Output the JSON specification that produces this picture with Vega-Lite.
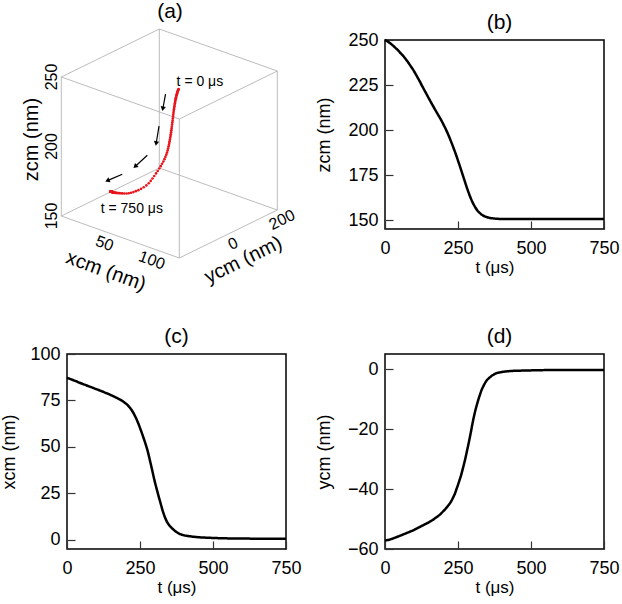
{
  "$schema": "https://vega.github.io/schema/vega-lite/v6.json",
  "padding": {"left": 0, "top": 0, "right": 0, "bottom": 0},
  "background": "white",
  "columns": 2,
  "bounds": "flush",
  "spacing": {"row": 125, "column": 99},
  "datasets": {
    "traj": [
      {"t":0,"x":87.2,"y":-57.2,"z":250.0},{"t":5,"x":86.9,"y":-57.1,"z":249.6},{"t":10,"x":86.6,"y":-57.0,"z":249.1},{"t":15,"x":86.3,"y":-56.9,"z":248.5},
      {"t":20,"x":86.0,"y":-56.7,"z":247.9},{"t":25,"x":85.7,"y":-56.6,"z":247.2},{"t":30,"x":85.4,"y":-56.4,"z":246.5},{"t":35,"x":85.1,"y":-56.2,"z":245.8},
      {"t":40,"x":84.7,"y":-56.0,"z":245.0},{"t":45,"x":84.4,"y":-55.85,"z":244.2},{"t":50,"x":84.1,"y":-55.65,"z":243.3},{"t":55,"x":83.8,"y":-55.45,"z":242.4},
      {"t":60,"x":83.5,"y":-55.25,"z":241.6},{"t":65,"x":83.2,"y":-55.05,"z":240.6},{"t":70,"x":82.9,"y":-54.85,"z":239.6},{"t":75,"x":82.6,"y":-54.65,"z":238.5},
      {"t":80,"x":82.3,"y":-54.45,"z":237.4},{"t":85,"x":82.0,"y":-54.25,"z":236.2},{"t":90,"x":81.7,"y":-54.05,"z":235.0},{"t":95,"x":81.4,"y":-53.85,"z":233.8},
      {"t":100,"x":81.1,"y":-53.6,"z":232.5},{"t":105,"x":80.8,"y":-53.35,"z":231.1},{"t":110,"x":80.5,"y":-53.1,"z":229.7},{"t":115,"x":80.2,"y":-52.85,"z":228.2},
      {"t":120,"x":79.9,"y":-52.6,"z":226.7},{"t":125,"x":79.6,"y":-52.35,"z":225.1},{"t":130,"x":79.2,"y":-52.1,"z":223.6},{"t":135,"x":78.9,"y":-51.85,"z":222.1},
      {"t":140,"x":78.6,"y":-51.6,"z":220.6},{"t":145,"x":78.3,"y":-51.35,"z":219.1},{"t":150,"x":77.9,"y":-51.1,"z":217.6},{"t":155,"x":77.6,"y":-50.8,"z":216.1},
      {"t":160,"x":77.2,"y":-50.5,"z":214.6},{"t":165,"x":76.8,"y":-50.2,"z":213.2},{"t":170,"x":76.4,"y":-49.85,"z":211.8},{"t":175,"x":76.0,"y":-49.5,"z":210.4},
      {"t":180,"x":75.6,"y":-49.15,"z":209.0},{"t":185,"x":75.2,"y":-48.8,"z":207.6},{"t":190,"x":74.7,"y":-48.35,"z":206.2},{"t":195,"x":74.1,"y":-47.85,"z":204.7},
      {"t":200,"x":73.5,"y":-47.4,"z":203.1},{"t":205,"x":72.9,"y":-46.9,"z":201.5},{"t":210,"x":72.1,"y":-46.3,"z":199.8},{"t":215,"x":71.2,"y":-45.7,"z":198.0},
      {"t":220,"x":70.1,"y":-45.1,"z":196.1},{"t":225,"x":68.9,"y":-44.4,"z":194.1},{"t":230,"x":67.5,"y":-43.5,"z":192.0},{"t":235,"x":65.9,"y":-42.5,"z":189.9},
      {"t":240,"x":64.2,"y":-41.4,"z":187.7},{"t":245,"x":62.3,"y":-40.0,"z":185.4},{"t":250,"x":60.2,"y":-38.6,"z":183.0},{"t":255,"x":58.1,"y":-37.1,"z":180.6},
      {"t":260,"x":55.8,"y":-35.6,"z":178.1},{"t":265,"x":53.5,"y":-33.8,"z":175.6},{"t":270,"x":51.1,"y":-31.9,"z":173.1},{"t":275,"x":48.5,"y":-29.9,"z":170.6},
      {"t":280,"x":45.4,"y":-27.7,"z":168.1},{"t":285,"x":42.0,"y":-25.4,"z":165.8},{"t":290,"x":38.6,"y":-23.1,"z":163.6},{"t":295,"x":35.1,"y":-20.6,"z":161.6},
      {"t":300,"x":31.7,"y":-18.0,"z":159.8},{"t":305,"x":28.6,"y":-15.7,"z":158.2},{"t":310,"x":25.6,"y":-13.6,"z":156.8},{"t":315,"x":22.7,"y":-11.8,"z":155.6},
      {"t":320,"x":19.9,"y":-10.1,"z":154.6},{"t":325,"x":17.0,"y":-8.6,"z":153.8},{"t":330,"x":14.4,"y":-7.2,"z":153.1},{"t":335,"x":12.2,"y":-6.1,"z":152.6},
      {"t":340,"x":10.4,"y":-5.1,"z":152.1},{"t":345,"x":8.9,"y":-4.3,"z":151.8},{"t":350,"x":7.8,"y":-3.6,"z":151.5},{"t":355,"x":6.9,"y":-3.1,"z":151.3},
      {"t":360,"x":6.1,"y":-2.7,"z":151.1},{"t":365,"x":5.4,"y":-2.3,"z":151.0},{"t":370,"x":4.7,"y":-2.0,"z":150.9},{"t":375,"x":4.1,"y":-1.7,"z":150.8},
      {"t":380,"x":3.6,"y":-1.45,"z":150.7},{"t":385,"x":3.2,"y":-1.3,"z":150.7},{"t":390,"x":2.9,"y":-1.17,"z":150.6},{"t":395,"x":2.6,"y":-1.07,"z":150.6},
      {"t":400,"x":2.4,"y":-0.99,"z":150.6},{"t":405,"x":2.2,"y":-0.92,"z":150.6},{"t":410,"x":2.1,"y":-0.86,"z":150.6},{"t":415,"x":1.95,"y":-0.8,"z":150.6},
      {"t":420,"x":1.85,"y":-0.76,"z":150.6},{"t":425,"x":1.75,"y":-0.72,"z":150.6},{"t":430,"x":1.65,"y":-0.68,"z":150.6},{"t":435,"x":1.55,"y":-0.65,"z":150.6},
      {"t":440,"x":1.47,"y":-0.62,"z":150.6},{"t":445,"x":1.4,"y":-0.6,"z":150.6},{"t":450,"x":1.34,"y":-0.58,"z":150.6},{"t":455,"x":1.28,"y":-0.57,"z":150.6},
      {"t":460,"x":1.24,"y":-0.56,"z":150.6},{"t":465,"x":1.2,"y":-0.55,"z":150.6},{"t":470,"x":1.16,"y":-0.53,"z":150.6},{"t":475,"x":1.12,"y":-0.52,"z":150.6},
      {"t":480,"x":1.08,"y":-0.5,"z":150.6},{"t":485,"x":1.04,"y":-0.49,"z":150.6},{"t":490,"x":1.01,"y":-0.48,"z":150.6},{"t":495,"x":0.98,"y":-0.47,"z":150.6},
      {"t":500,"x":0.95,"y":-0.46,"z":150.6},{"t":505,"x":0.92,"y":-0.45,"z":150.6},{"t":510,"x":0.89,"y":-0.44,"z":150.6},{"t":515,"x":0.86,"y":-0.43,"z":150.6},
      {"t":520,"x":0.84,"y":-0.42,"z":150.6},{"t":525,"x":0.82,"y":-0.41,"z":150.6},{"t":530,"x":0.8,"y":-0.4,"z":150.6},{"t":535,"x":0.78,"y":-0.39,"z":150.6},
      {"t":540,"x":0.76,"y":-0.38,"z":150.6},{"t":545,"x":0.74,"y":-0.37,"z":150.6},{"t":550,"x":0.72,"y":-0.36,"z":150.6},{"t":555,"x":0.71,"y":-0.36,"z":150.6},
      {"t":560,"x":0.7,"y":-0.35,"z":150.6},{"t":565,"x":0.69,"y":-0.35,"z":150.6},{"t":570,"x":0.68,"y":-0.35,"z":150.6},{"t":575,"x":0.67,"y":-0.34,"z":150.6},
      {"t":580,"x":0.66,"y":-0.34,"z":150.6},{"t":585,"x":0.65,"y":-0.34,"z":150.6},{"t":590,"x":0.64,"y":-0.33,"z":150.6},{"t":595,"x":0.63,"y":-0.33,"z":150.6},
      {"t":600,"x":0.62,"y":-0.33,"z":150.6},{"t":605,"x":0.61,"y":-0.33,"z":150.6},{"t":610,"x":0.6,"y":-0.32,"z":150.6},{"t":615,"x":0.6,"y":-0.32,"z":150.6},
      {"t":620,"x":0.59,"y":-0.32,"z":150.6},{"t":625,"x":0.59,"y":-0.32,"z":150.6},{"t":630,"x":0.58,"y":-0.32,"z":150.6},{"t":635,"x":0.58,"y":-0.31,"z":150.6},
      {"t":640,"x":0.57,"y":-0.31,"z":150.6},{"t":645,"x":0.57,"y":-0.31,"z":150.6},{"t":650,"x":0.56,"y":-0.31,"z":150.6},{"t":655,"x":0.56,"y":-0.31,"z":150.6},
      {"t":660,"x":0.55,"y":-0.31,"z":150.6},{"t":665,"x":0.55,"y":-0.3,"z":150.6},{"t":670,"x":0.55,"y":-0.3,"z":150.6},{"t":675,"x":0.54,"y":-0.3,"z":150.6},
      {"t":680,"x":0.54,"y":-0.3,"z":150.6},{"t":685,"x":0.54,"y":-0.3,"z":150.6},{"t":690,"x":0.54,"y":-0.3,"z":150.6},{"t":695,"x":0.54,"y":-0.3,"z":150.6},
      {"t":700,"x":0.54,"y":-0.3,"z":150.6},{"t":705,"x":0.54,"y":-0.3,"z":150.6},{"t":710,"x":0.54,"y":-0.3,"z":150.6},{"t":715,"x":0.54,"y":-0.3,"z":150.6},
      {"t":720,"x":0.54,"y":-0.3,"z":150.6},{"t":725,"x":0.54,"y":-0.3,"z":150.6},{"t":730,"x":0.54,"y":-0.3,"z":150.6},{"t":735,"x":0.54,"y":-0.3,"z":150.6},
      {"t":740,"x":0.54,"y":-0.3,"z":150.6},{"t":745,"x":0.54,"y":-0.3,"z":150.6},{"t":750,"x":0.54,"y":-0.3,"z":150.6}
    ],
    "edges": [
      {"x1":0,"y1":-200,"z1":150,"x2":125,"y2":-200,"z2":150},
      {"x1":125,"y1":-200,"z1":150,"x2":125,"y2":200,"z2":150},
      {"x1":125,"y1":200,"z1":150,"x2":0,"y2":200,"z2":150},
      {"x1":0,"y1":200,"z1":150,"x2":0,"y2":-200,"z2":150},
      {"x1":0,"y1":-200,"z1":250,"x2":125,"y2":-200,"z2":250},
      {"x1":125,"y1":-200,"z1":250,"x2":125,"y2":200,"z2":250},
      {"x1":125,"y1":200,"z1":250,"x2":0,"y2":200,"z2":250},
      {"x1":0,"y1":200,"z1":250,"x2":0,"y2":-200,"z2":250},
      {"x1":0,"y1":-200,"z1":150,"x2":0,"y2":-200,"z2":250},
      {"x1":125,"y1":-200,"z1":150,"x2":125,"y2":-200,"z2":250},
      {"x1":125,"y1":200,"z1":150,"x2":125,"y2":200,"z2":250},
      {"x1":0,"y1":200,"z1":150,"x2":0,"y2":200,"z2":250}
    ],
    "arrows": [
      {"x1":58.5,"y1":0,"z1":234.6,"x2":55.8,"y2":0,"z2":223.9},
      {"x1":51.6,"y1":0,"z1":209.9,"x2":48.7,"y2":0,"z2":197.2},
      {"x1":39.2,"y1":0,"z1":185.9,"x2":26.9,"y2":0,"z2":175.2},
      {"x1":12.7,"y1":0,"z1":165.8,"x2":-2.4,"y2":0,"z2":157.8}
    ]
  },
  "concat": [
    {
      "width": 219,
      "height": 189,
      "view": {"stroke": null},
      "title": {"text": "(a)", "dx": -6.5, "offset": 7},
      "layer": [
        {
          "data": {"name": "edges"},
          "transform": [
            {"calculate": "1.18*datum.x1/125+0.98*(datum.y1+200)/400", "as": "U1"},
            {"calculate": "-0.42*datum.x1/125+0.48*(datum.y1+200)/400+1.39*(datum.z1-150)/100", "as": "V1"},
            {"calculate": "1.18*datum.x2/125+0.98*(datum.y2+200)/400", "as": "U2"},
            {"calculate": "-0.42*datum.x2/125+0.48*(datum.y2+200)/400+1.39*(datum.z2-150)/100", "as": "V2"}
          ],
          "mark": {"type": "rule", "color": "#b4b4b4", "strokeWidth": 0.9},
          "encoding": {
            "x": {"field": "U1", "type": "quantitative", "scale": {"domain": [0.057, 2.247], "nice": false, "zero": false}, "axis": null},
            "y": {"field": "V1", "type": "quantitative", "scale": {"domain": [-0.13, 1.76], "nice": false, "zero": false}, "axis": null},
            "x2": {"field": "U2"},
            "y2": {"field": "V2"}
          }
        },
        {
          "data": {"name": "traj"},
          "transform": [
            {"calculate": "1.18*datum.x/125+0.98*(datum.y+200)/400", "as": "U"},
            {"calculate": "-0.42*datum.x/125+0.48*(datum.y+200)/400+1.39*(datum.z-150)/100", "as": "V"}
          ],
          "mark": {"type": "circle", "color": "#e8141c", "size": 7, "opacity": 1},
          "encoding": {
            "x": {"field": "U", "type": "quantitative", "scale": {"domain": [0.057, 2.247], "nice": false, "zero": false}, "axis": null},
            "y": {"field": "V", "type": "quantitative", "scale": {"domain": [-0.13, 1.76], "nice": false, "zero": false}, "axis": null}
          }
        },
        {
          "data": {"name": "arrows"},
          "transform": [
            {"calculate": "1.18*datum.x1/125+0.98*(datum.y1+200)/400", "as": "U1"},
            {"calculate": "-0.42*datum.x1/125+0.48*(datum.y1+200)/400+1.39*(datum.z1-150)/100", "as": "V1"},
            {"calculate": "1.18*datum.x2/125+0.98*(datum.y2+200)/400", "as": "U2"},
            {"calculate": "-0.42*datum.x2/125+0.48*(datum.y2+200)/400+1.39*(datum.z2-150)/100", "as": "V2"}
          ],
          "mark": {"type": "rule", "color": "black", "strokeWidth": 1.2},
          "encoding": {
            "x": {"field": "U1", "type": "quantitative", "scale": {"domain": [0.057, 2.247], "nice": false, "zero": false}, "axis": null},
            "y": {"field": "V1", "type": "quantitative", "scale": {"domain": [-0.13, 1.76], "nice": false, "zero": false}, "axis": null},
            "x2": {"field": "U2"},
            "y2": {"field": "V2"}
          }
        },
        {
          "data": {"name": "arrows"},
          "transform": [
            {"calculate": "1.18*datum.x1/125+0.98*(datum.y1+200)/400", "as": "U1"},
            {"calculate": "-0.42*datum.x1/125+0.48*(datum.y1+200)/400+1.39*(datum.z1-150)/100", "as": "V1"},
            {"calculate": "1.18*datum.x2/125+0.98*(datum.y2+200)/400", "as": "U2"},
            {"calculate": "-0.42*datum.x2/125+0.48*(datum.y2+200)/400+1.39*(datum.z2-150)/100", "as": "V2"},
            {"calculate": "atan2(datum.U2-datum.U1, datum.V2-datum.V1)*180/PI", "as": "ang"}
          ],
          "mark": {"type": "point", "shape": "triangle", "filled": true, "color": "black", "size": 28, "opacity": 1},
          "encoding": {
            "x": {"field": "U2", "type": "quantitative", "scale": {"domain": [0.057, 2.247], "nice": false, "zero": false}, "axis": null},
            "y": {"field": "V2", "type": "quantitative", "scale": {"domain": [-0.13, 1.76], "nice": false, "zero": false}, "axis": null},
            "angle": {"field": "ang", "type": "quantitative", "scale": null}
          }
        },
        {
          "data": {"values": [{"label": "t = 0 μs", "x": 87.2, "y": -57.2, "z": 250}]},
          "transform": [
            {"calculate": "1.18*datum.x/125+0.98*(datum.y+200)/400", "as": "U"},
            {"calculate": "-0.42*datum.x/125+0.48*(datum.y+200)/400+1.39*(datum.z-150)/100", "as": "V"}
          ],
          "mark": {"type": "text", "align": "left", "baseline": "middle", "dx": -2, "dy": -7, "fontSize": 14, "color": "black"},
          "encoding": {
            "x": {"field": "U", "type": "quantitative", "scale": {"domain": [0.057, 2.247], "nice": false, "zero": false}, "axis": null},
            "y": {"field": "V", "type": "quantitative", "scale": {"domain": [-0.13, 1.76], "nice": false, "zero": false}, "axis": null},
            "text": {"field": "label"}
          }
        },
        {
          "data": {"values": [{"label": "t = 750 μs", "x": 0.54, "y": -0.3, "z": 150.6}]},
          "transform": [
            {"calculate": "1.18*datum.x/125+0.98*(datum.y+200)/400", "as": "U"},
            {"calculate": "-0.42*datum.x/125+0.48*(datum.y+200)/400+1.39*(datum.z-150)/100", "as": "V"}
          ],
          "mark": {"type": "text", "align": "left", "baseline": "middle", "dx": -10, "dy": 17.5, "fontSize": 14, "color": "black"},
          "encoding": {
            "x": {"field": "U", "type": "quantitative", "scale": {"domain": [0.057, 2.247], "nice": false, "zero": false}, "axis": null},
            "y": {"field": "V", "type": "quantitative", "scale": {"domain": [-0.13, 1.76], "nice": false, "zero": false}, "axis": null},
            "text": {"field": "label"}
          }
        },
        {
          "data": {"values": [{"label": "150", "x": 0, "y": -200, "z": 150}, {"label": "200", "x": 0, "y": -200, "z": 200}, {"label": "250", "x": 0, "y": -200, "z": 250}]},
          "transform": [
            {"calculate": "1.18*datum.x/125+0.98*(datum.y+200)/400", "as": "U"},
            {"calculate": "-0.42*datum.x/125+0.48*(datum.y+200)/400+1.39*(datum.z-150)/100", "as": "V"}
          ],
          "mark": {"type": "text", "angle": 270, "align": "center", "baseline": "alphabetic", "dy": -4, "fontSize": 16, "color": "black"},
          "encoding": {
            "x": {"field": "U", "type": "quantitative", "scale": {"domain": [0.057, 2.247], "nice": false, "zero": false}, "axis": null},
            "y": {"field": "V", "type": "quantitative", "scale": {"domain": [-0.13, 1.76], "nice": false, "zero": false}, "axis": null},
            "text": {"field": "label"}
          }
        },
        {
          "data": {"values": [{"label": "zcm (nm)", "x": 0, "y": -200, "z": 205}]},
          "transform": [
            {"calculate": "1.18*datum.x/125+0.98*(datum.y+200)/400", "as": "U"},
            {"calculate": "-0.42*datum.x/125+0.48*(datum.y+200)/400+1.39*(datum.z-150)/100", "as": "V"}
          ],
          "mark": {"type": "text", "angle": 270, "align": "center", "baseline": "alphabetic", "dy": -23, "fontSize": 20, "color": "black"},
          "encoding": {
            "x": {"field": "U", "type": "quantitative", "scale": {"domain": [0.057, 2.247], "nice": false, "zero": false}, "axis": null},
            "y": {"field": "V", "type": "quantitative", "scale": {"domain": [-0.13, 1.76], "nice": false, "zero": false}, "axis": null},
            "text": {"field": "label"}
          }
        },
        {
          "data": {"values": [{"label": "50", "x": 50, "y": -200, "z": 150}, {"label": "100", "x": 100, "y": -200, "z": 150}]},
          "transform": [
            {"calculate": "1.18*datum.x/125+0.98*(datum.y+200)/400", "as": "U"},
            {"calculate": "-0.42*datum.x/125+0.48*(datum.y+200)/400+1.39*(datum.z-150)/100", "as": "V"}
          ],
          "mark": {"type": "text", "angle": 20, "align": "center", "baseline": "middle", "dy": 11.5, "fontSize": 16, "color": "black"},
          "encoding": {
            "x": {"field": "U", "type": "quantitative", "scale": {"domain": [0.057, 2.247], "nice": false, "zero": false}, "axis": null},
            "y": {"field": "V", "type": "quantitative", "scale": {"domain": [-0.13, 1.76], "nice": false, "zero": false}, "axis": null},
            "text": {"field": "label"}
          }
        },
        {
          "data": {"values": [{"label": "xcm (nm)", "x": 60.7, "y": -200, "z": 150}]},
          "transform": [
            {"calculate": "1.18*datum.x/125+0.98*(datum.y+200)/400", "as": "U"},
            {"calculate": "-0.42*datum.x/125+0.48*(datum.y+200)/400+1.39*(datum.z-150)/100", "as": "V"}
          ],
          "mark": {"type": "text", "angle": 20, "align": "center", "baseline": "middle", "dy": 37, "fontSize": 20, "color": "black"},
          "encoding": {
            "x": {"field": "U", "type": "quantitative", "scale": {"domain": [0.057, 2.247], "nice": false, "zero": false}, "axis": null},
            "y": {"field": "V", "type": "quantitative", "scale": {"domain": [-0.13, 1.76], "nice": false, "zero": false}, "axis": null},
            "text": {"field": "label"}
          }
        },
        {
          "data": {"values": [{"label": "0", "x": 125, "y": 0, "z": 150}, {"label": "200", "x": 125, "y": 200, "z": 150}]},
          "transform": [
            {"calculate": "1.18*datum.x/125+0.98*(datum.y+200)/400", "as": "U"},
            {"calculate": "-0.42*datum.x/125+0.48*(datum.y+200)/400+1.39*(datum.z-150)/100", "as": "V"}
          ],
          "mark": {"type": "text", "angle": 334, "align": "center", "baseline": "middle", "dy": 11, "fontSize": 16, "color": "black"},
          "encoding": {
            "x": {"field": "U", "type": "quantitative", "scale": {"domain": [0.057, 2.247], "nice": false, "zero": false}, "axis": null},
            "y": {"field": "V", "type": "quantitative", "scale": {"domain": [-0.13, 1.76], "nice": false, "zero": false}, "axis": null},
            "text": {"field": "label"}
          }
        },
        {
          "data": {"values": [{"label": "ycm (nm)", "x": 125, "y": 8, "z": 150}]},
          "transform": [
            {"calculate": "1.18*datum.x/125+0.98*(datum.y+200)/400", "as": "U"},
            {"calculate": "-0.42*datum.x/125+0.48*(datum.y+200)/400+1.39*(datum.z-150)/100", "as": "V"}
          ],
          "mark": {"type": "text", "angle": 334, "align": "center", "baseline": "middle", "dy": 30, "fontSize": 20, "color": "black"},
          "encoding": {
            "x": {"field": "U", "type": "quantitative", "scale": {"domain": [0.057, 2.247], "nice": false, "zero": false}, "axis": null},
            "y": {"field": "V", "type": "quantitative", "scale": {"domain": [-0.13, 1.76], "nice": false, "zero": false}, "axis": null},
            "text": {"field": "label"}
          }
        }
      ]
    },
    {
      "width": 219,
      "height": 189,
      "title": {"text": "(b)", "dx": 5},
      "data": {"name": "traj"},
      "mark": {"type": "line", "color": "black", "strokeWidth": 2.5, "interpolate": "monotone"},
      "encoding": {
        "x": {"field": "t", "type": "quantitative", "scale": {"domain": [0, 750], "nice": false}, "axis": {"values": [0, 250, 500, 750], "title": "t (μs)"}},
        "y": {"field": "z", "type": "quantitative", "scale": {"domain": [145, 250], "nice": false, "zero": false}, "axis": {"values": [150, 175, 200, 225, 250], "title": "zcm (nm)", "titlePadding": 14}}
      }
    },
    {
      "width": 219,
      "height": 195,
      "title": {"text": "(c)"},
      "data": {"name": "traj"},
      "mark": {"type": "line", "color": "black", "strokeWidth": 2.5, "interpolate": "monotone"},
      "encoding": {
        "x": {"field": "t", "type": "quantitative", "scale": {"domain": [0, 750], "nice": false}, "axis": {"values": [0, 250, 500, 750], "title": "t (μs)"}},
        "y": {"field": "x", "type": "quantitative", "scale": {"domain": [-5, 100], "nice": false, "zero": false}, "axis": {"values": [0, 25, 50, 75, 100], "title": "xcm (nm)", "titlePadding": 11}}
      }
    },
    {
      "width": 219,
      "height": 195,
      "title": {"text": "(d)", "dx": 5, "offset": 7},
      "data": {"name": "traj"},
      "mark": {"type": "line", "color": "black", "strokeWidth": 2.5, "interpolate": "monotone"},
      "encoding": {
        "x": {"field": "t", "type": "quantitative", "scale": {"domain": [0, 750], "nice": false}, "axis": {"values": [0, 250, 500, 750], "title": "t (μs)"}},
        "y": {"field": "y", "type": "quantitative", "scale": {"domain": [-60, 5], "nice": false, "zero": false}, "axis": {"values": [-60, -40, -20, 0], "title": "ycm (nm)", "titlePadding": 14}}
      }
    }
  ],
  "config": {
    "font": "Liberation Sans",
    "view": {"stroke": "black", "strokeWidth": 1.5},
    "axis": {
      "domain": false,
      "grid": false,
      "tickSize": -8,
      "tickColor": "#333333",
      "tickWidth": 1.2,
      "labelFontSize": 18,
      "labelColor": "black",
      "labelFlush": false,
      "labelOverlap": false,
      "titleFontSize": 17,
      "titleFontWeight": "normal",
      "titleColor": "black"
    },
    "axisX": {"labelPadding": 18, "titlePadding": 2},
    "axisY": {"labelPadding": 15, "titleFontSize": 18},
    "title": {"fontSize": 21, "fontWeight": "normal", "color": "black", "offset": -2}
  }
}
